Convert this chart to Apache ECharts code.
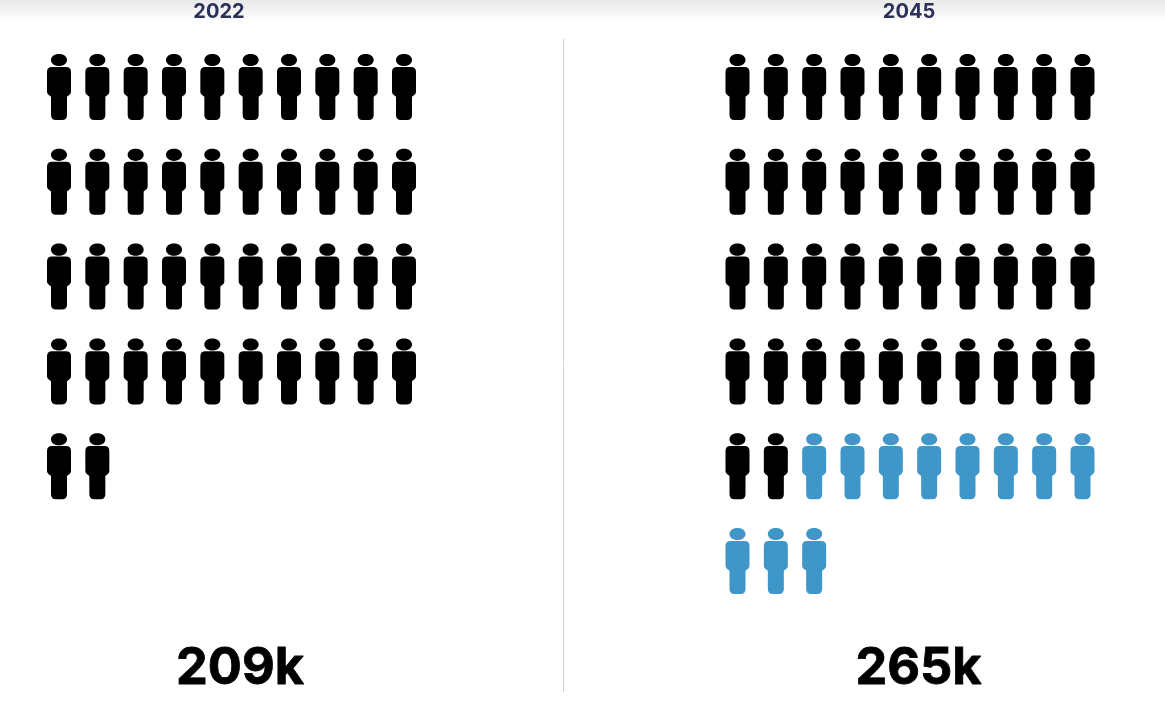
<!DOCTYPE html>
<html>
<head>
<meta charset="utf-8">
<style>html,body{margin:0;padding:0;background:#fff}#c{width:1165px;height:706px}</style>
<script src="https://cdn.jsdelivr.net/npm/echarts@6/dist/echarts.min.js"></script>
</head>
<body>
<div id="c"></div>
<script>
const years = ['2022', '2045'];
const totals = ['209k', '265k'];
const baseIcons = [42, 42];
const addedIcons = [0, 11];
const perRow = 10;
const rowsShown = 6;

const person = 'path://M12 0C17 0 20 2.7 20 6C20 9.3 17 12 12 12C7 12 4 9.3 4 6C4 2.7 7 0 12 0Z' +
  'M5 12.8L19 12.8Q24 12.8 24 17.8L24 37.5Q24 39.5 22.5 40.5L20 42.5L20 60.5Q20 65.5 15 65.5L9 65.5Q4 65.5 4 60.5L4 42.5L1.5 40.5Q0 39.5 0 37.5L0 17.8Q0 12.8 5 12.8Z';

function cells(start, count) {
  const out = [];
  for (let i = start; i < start + count; i++) out.push([i % perRow, Math.floor(i / perRow)]);
  return out;
}

const gridLefts = [59, 737.5];
const centers = [219, 909];
const numCenters = [240, 918.5];

const chart = echarts.init(document.getElementById('c'));
const grids = [], xAxes = [], yAxes = [], series = [], titles = [];
years.forEach((y, i) => {
  grids.push({ left: gridLefts[i], top: 87, width: 345, height: 474 });
  xAxes.push({ type: 'value', gridIndex: i, min: 0, max: perRow - 1, show: false });
  yAxes.push({ type: 'value', gridIndex: i, min: 0, max: rowsShown - 1, inverse: true, show: false });
  const common = { type: 'scatter', xAxisIndex: i, yAxisIndex: i, symbol: person, symbolSize: [24, 66], silent: true, animation: false };
  series.push(Object.assign({}, common, { name: y + ' base', data: cells(0, baseIcons[i]), itemStyle: { color: '#000000', opacity: 1 } }));
  series.push(Object.assign({}, common, { name: y + ' added', data: cells(baseIcons[i], addedIcons[i]), itemStyle: { color: '#3f96c9', opacity: 1 } }));
  titles.push({ text: y, left: centers[i], top: 1, textAlign: 'center', padding: 0,
    textStyle: { fontFamily: 'Inter', fontWeight: 700, fontSize: 20, color: '#2b3158', lineHeight: 22 } });
  titles.push({ text: totals[i], left: numCenters[i], top: 639, textAlign: 'center', padding: 0,
    textStyle: { fontFamily: 'Inter', fontWeight: 700, fontSize: 50.5, color: '#000000', lineHeight: 60, textBorderColor: '#000000', textBorderWidth: 0.8 } });
});

chart.setOption({
  animation: false,
  backgroundColor: '#ffffff',
  title: titles,
  grid: grids,
  xAxis: xAxes,
  yAxis: yAxes,
  series: series,
  graphic: [
    { type: 'rect', z: -1, silent: true, shape: { x: 0, y: 0, width: 1165, height: 22 },
      style: { fill: new echarts.graphic.LinearGradient(0, 0, 0, 1, [{ offset: 0, color: '#e9e9e9' }, { offset: 1, color: '#ffffff' }]) } },
    { type: 'line', silent: true, shape: { x1: 563.5, y1: 39, x2: 563.5, y2: 692 }, style: { stroke: '#d2d2d2', lineWidth: 1 } }
  ]
});
</script>
</body>
</html>
